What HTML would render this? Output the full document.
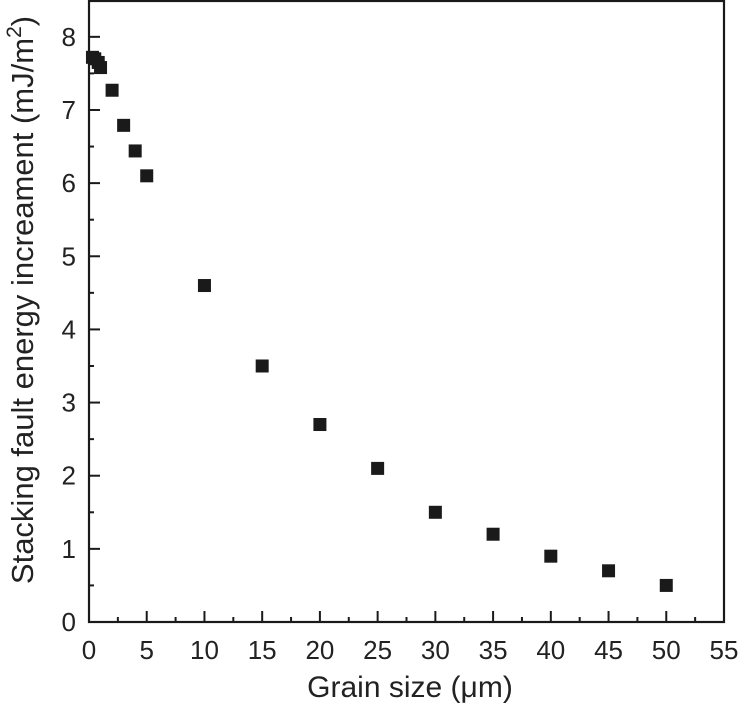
<!DOCTYPE html>
<html><head><meta charset="utf-8"><style>
html,body{margin:0;padding:0;background:#fff;}
svg{display:block;font-family:"Liberation Sans",Arial,sans-serif;}
</style></head><body>
<svg id="chart" width="739" height="703" viewBox="0 0 739 703">
<g id="marks"></g>
<g id="axes"></g>
</svg>
<script>
const xValues=[0.3,0.5,0.8,1,2,3,4,5,10,15,20,25,30,35,40,45,50];
const yValues=[7.72,7.7,7.65,7.58,7.27,6.79,6.44,6.1,4.6,3.5,2.7,2.1,1.5,1.2,0.9,0.7,0.5];
const xTicks=[0,5,10,15,20,25,30,35,40,45,50,55];
const yTicks=[0,1,2,3,4,5,6,7,8];
const L=89,R=724,T=1,B=622;
const X0=0,X1=55,Y0=0,Y1=8.49;
const sx=v=>L+(v-X0)/(X1-X0)*(R-L);
const sy=v=>B-(v-Y0)/(Y1-Y0)*(B-T);
const NS="http://www.w3.org/2000/svg";
function mk(tag,attrs,parent,text){const e=document.createElementNS(NS,tag);for(const k in attrs)e.setAttribute(k,attrs[k]);if(text!==undefined)e.textContent=text;parent.appendChild(e);return e;}
const axes=document.getElementById('axes');
const marks=document.getElementById('marks');
const frame=mk('rect',{x:L,y:T,width:R-L,height:B-T,fill:'none',stroke:'#1a1a1a','stroke-width':2.2},axes);


xTicks.forEach((v,i)=>{
  const x=sx(v);
  const t=mk('line',{x1:x,x2:x,y1:B,y2:B-11,stroke:'#1a1a1a','stroke-width':2},axes);
  
  
  if(i<xTicks.length-1){const m=mk('line',{x1:sx(v+2.5),x2:sx(v+2.5),y1:B,y2:B-5,stroke:'#1a1a1a','stroke-width':2},axes);
  
  }
  const lb=mk('text',{x:x,y:B+37,'text-anchor':'middle','font-size':26,fill:'#222'},axes,String(v));
  
  
});
yTicks.forEach((v,i)=>{
  const y=sy(v);
  const t=mk('line',{x1:L,x2:L+11,y1:y,y2:y,stroke:'#1a1a1a','stroke-width':2},axes);
  
  
  const m=mk('line',{x1:L,x2:L+5,y1:sy(v+0.5),y2:sy(v+0.5),stroke:'#1a1a1a','stroke-width':2},axes);
  
  
  const lb=mk('text',{x:L-13,y:y+9,'text-anchor':'end','font-size':26,fill:'#222'},axes,String(v));
  
  
});
const xt=mk('text',{x:410,y:697,'text-anchor':'middle','font-size':30,fill:'#222'},axes,'Grain size (μm)');


const yt=mk('text',{x:0,y:0,'text-anchor':'middle','font-size':31,fill:'#222',transform:'translate(33,300) rotate(-90)'},axes);


yt.appendChild(document.createTextNode('Stacking fault energy increament (mJ/m'));
const sup=mk('tspan',{dy:-12,'font-size':21},yt,'2');
const cl=mk('tspan',{dy:12},yt,')');
xValues.forEach((v,i)=>{
  const p=mk('rect',{x:sx(v)-6.5,y:sy(yValues[i])-6.5,width:13,height:13,fill:'#1a1a1a'},marks);
  
  
});
</script>
</body></html>
